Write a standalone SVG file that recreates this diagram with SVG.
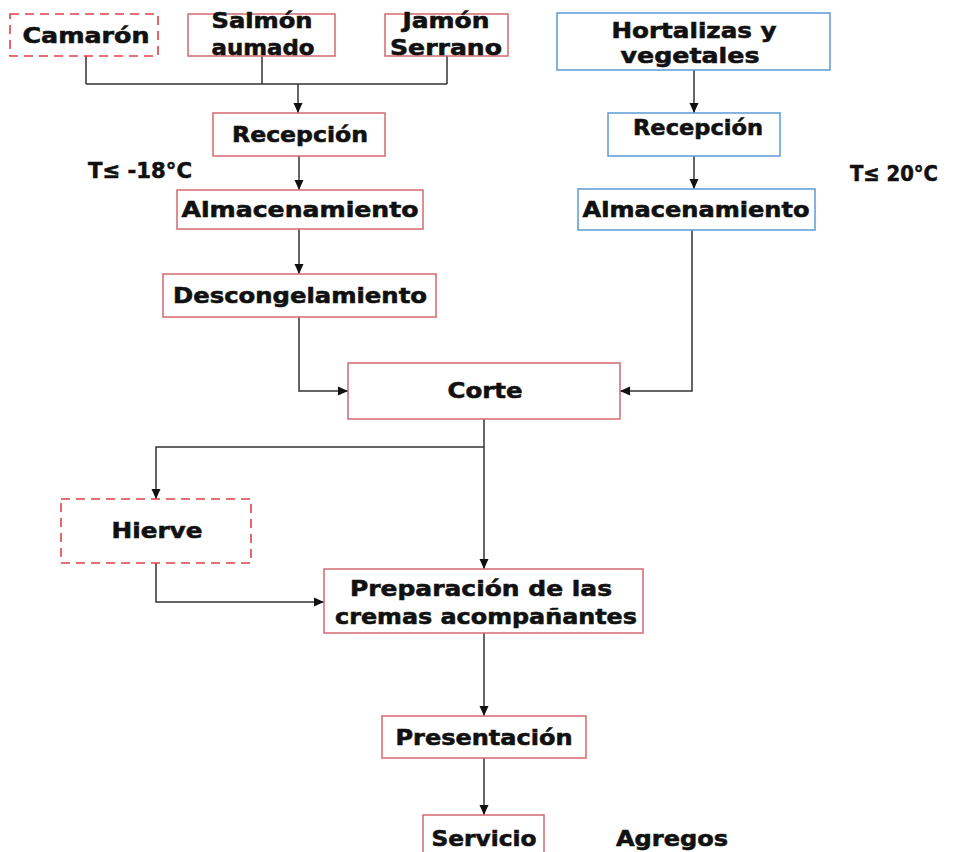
<svg xmlns="http://www.w3.org/2000/svg" width="954" height="852" viewBox="0 0 954 852">
<style>
.t{font-family:"DejaVu Sans","Liberation Sans",sans-serif;font-weight:bold;font-size:22px;fill:#111;stroke:#111;stroke-width:0.6;text-anchor:middle}
.r{fill:#fff;stroke:#d46a70;stroke-width:1.5}
.d{fill:#fff;stroke:#e0404c;stroke-width:1.6;stroke-dasharray:9,6}
.b{fill:#fff;stroke:#5b9bd5;stroke-width:1.5}
.c{fill:none;stroke:#333;stroke-width:1.5}
</style>
<defs>
<marker id="a" markerUnits="userSpaceOnUse" markerWidth="11" markerHeight="11" refX="10" refY="5.5" orient="auto">
<path d="M0,1 L10,5.5 L0,10 Z" fill="#111"/>
</marker>
</defs>
<rect width="954" height="852" fill="#fff"/>
<g id="connectors">
<path class="c" d="M86,56 V84 M262,56 V84 M447,56 V84 M86,84 H447"/>
<path class="c" d="M298,84 V113" stroke-width="2" marker-end="url(#a)"/>
<path class="c" d="M299,156 V190" marker-end="url(#a)"/>
<path class="c" d="M299,229 V274" marker-end="url(#a)"/>
<path class="c" d="M299,317 V391 H348" marker-end="url(#a)"/>
<path class="c" d="M694,70 V113" marker-end="url(#a)"/>
<path class="c" d="M694,156 V189" marker-end="url(#a)"/>
<path class="c" d="M692,230 V391 H620" marker-end="url(#a)"/>
<path class="c" d="M484,419 V569" marker-end="url(#a)"/>
<path class="c" d="M484,447 H156 V499" marker-end="url(#a)"/>
<path class="c" d="M156,563 V602 H324" marker-end="url(#a)"/>
<path class="c" d="M484,633 V716" marker-end="url(#a)"/>
<path class="c" d="M484,758 V815" marker-end="url(#a)"/>
</g>
<g id="camaron"><rect class="d" x="10" y="14" width="148" height="42"/><text class="t" x="86" y="43" textLength="127" lengthAdjust="spacingAndGlyphs">Camarón</text></g>
<g id="salmon"><rect class="r" x="188" y="14" width="147" height="42"/><text class="t" x="262" y="28" textLength="101" lengthAdjust="spacingAndGlyphs">Salmón</text><text class="t" x="263" y="55" textLength="103" lengthAdjust="spacingAndGlyphs">aumado</text></g>
<g id="jamon"><rect class="r" x="385" y="14" width="123" height="42"/><text class="t" x="446" y="28" textLength="87" lengthAdjust="spacingAndGlyphs">Jamón</text><text class="t" x="446" y="55" textLength="112" lengthAdjust="spacingAndGlyphs">Serrano</text></g>
<g id="hortalizas"><rect class="b" x="557" y="13" width="273" height="57"/><text class="t" x="694" y="38" textLength="165" lengthAdjust="spacingAndGlyphs">Hortalizas y</text><text class="t" x="690" y="63" textLength="139" lengthAdjust="spacingAndGlyphs">vegetales</text></g>
<g id="recepcion1"><rect class="r" x="213" y="113" width="172" height="43"/><text class="t" x="300" y="142" textLength="136" lengthAdjust="spacingAndGlyphs">Recepción</text></g>
<g id="recepcion2"><rect class="b" x="608" y="113" width="172" height="43"/><text class="t" x="698" y="135" textLength="130" lengthAdjust="spacingAndGlyphs">Recepción</text></g>
<g id="temp1"><text class="t" x="140" y="178" textLength="104" lengthAdjust="spacingAndGlyphs">T≤ -18°C</text></g>
<g id="temp2"><text class="t" x="894" y="181" textLength="88" lengthAdjust="spacingAndGlyphs">T≤ 20°C</text></g>
<g id="almacen1"><rect class="r" x="177" y="190" width="246" height="39"/><text class="t" x="300" y="217" textLength="237" lengthAdjust="spacingAndGlyphs">Almacenamiento</text></g>
<g id="almacen2"><rect class="b" x="578" y="189" width="237" height="41"/><text class="t" x="696" y="217" textLength="227" lengthAdjust="spacingAndGlyphs">Almacenamiento</text></g>
<g id="descongelamiento"><rect class="r" x="163" y="274" width="273" height="43"/><text class="t" x="300" y="303" textLength="254" lengthAdjust="spacingAndGlyphs">Descongelamiento</text></g>
<g id="corte"><rect class="r" x="348" y="363" width="272" height="56"/><text class="t" x="485" y="398" textLength="75" lengthAdjust="spacingAndGlyphs">Corte</text></g>
<g id="hierve"><rect class="d" x="61" y="499" width="190" height="64"/><text class="t" x="157" y="538" textLength="91" lengthAdjust="spacingAndGlyphs">Hierve</text></g>
<g id="preparacion"><rect class="r" x="324" y="569" width="319" height="64"/><text class="t" x="481" y="596" textLength="262" lengthAdjust="spacingAndGlyphs">Preparación de las</text><text class="t" x="486" y="624" textLength="302" lengthAdjust="spacingAndGlyphs">cremas acompañantes</text></g>
<g id="presentacion"><rect class="r" x="382" y="716" width="204" height="42"/><text class="t" x="484" y="745" textLength="177" lengthAdjust="spacingAndGlyphs">Presentación</text></g>
<g id="servicio"><rect class="r" x="423" y="815" width="121" height="45"/><text class="t" x="484" y="846" textLength="105" lengthAdjust="spacingAndGlyphs">Servicio</text></g>
<g id="agregos"><text class="t" x="672" y="846" textLength="112" lengthAdjust="spacingAndGlyphs">Agregos</text></g>
</svg>
